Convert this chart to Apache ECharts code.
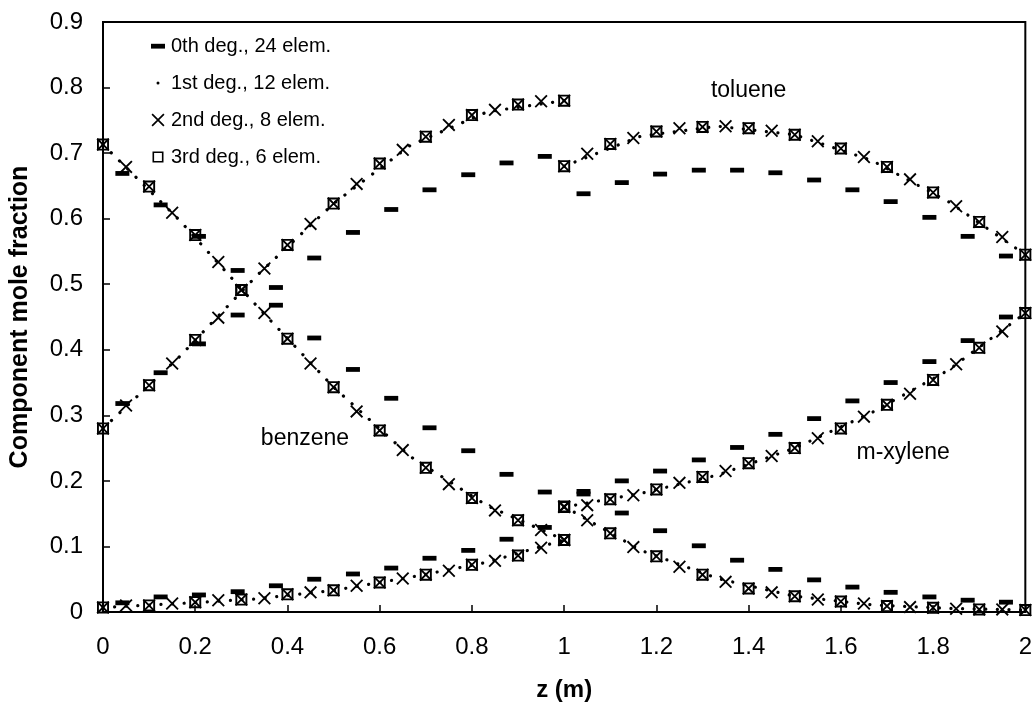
<!DOCTYPE html>
<html>
<head>
<meta charset="utf-8">
<title>Component mole fraction along z</title>
<script src="https://cdn.jsdelivr.net/npm/echarts@6/dist/echarts.min.js"></script>
<style>
  html, body { margin: 0; padding: 0; background: #fff; }
  #chart { width: 1035px; height: 707px; }
</style>
</head>
<body>
<div id="chart"></div>
<script>
// ---- axis tick labels ----
const xTickLabels = ['0', '0.2', '0.4', '0.6', '0.8', '1', '1.2', '1.4', '1.6', '1.8', '2'];
const yTickLabels = ['0', '0.1', '0.2', '0.3', '0.4', '0.5', '0.6', '0.7', '0.8', '0.9'];

// ---- series names ----
const seriesNames = ['0th deg., 24 elem.', '1st deg., 12 elem.', '2nd deg., 8 elem.', '3rd deg., 6 elem.'];

// ---- 0th degree, 24 elements: element midpoints ----
const zDeg0 = [0.042, 0.125, 0.208, 0.292, 0.375, 0.458, 0.542, 0.625, 0.708, 0.792, 0.875, 0.958,
               1.042, 1.125, 1.208, 1.292, 1.375, 1.458, 1.542, 1.625, 1.708, 1.792, 1.875, 1.958];
const benzeneDeg0 = [0.669, 0.621, 0.573, 0.521, 0.468, 0.418, 0.370, 0.326, 0.281, 0.246, 0.210, 0.183,
                     0.184, 0.151, 0.124, 0.101, 0.079, 0.065, 0.049, 0.038, 0.030, 0.023, 0.018, 0.015];
const tolueneDeg0 = [0.318, 0.365, 0.409, 0.453, 0.495, 0.540, 0.579, 0.614, 0.644, 0.667, 0.685, 0.695,
                     0.638, 0.655, 0.668, 0.674, 0.674, 0.670, 0.659, 0.644, 0.626, 0.602, 0.573, 0.543];
const xyleneDeg0 = [0.014, 0.023, 0.026, 0.031, 0.040, 0.050, 0.058, 0.067, 0.082, 0.094, 0.111, 0.129,
                    0.180, 0.200, 0.215, 0.232, 0.251, 0.271, 0.295, 0.322, 0.350, 0.382, 0.414, 0.450];

// ---- 1st degree, 12 elements: nodal values (two sections, split at z = 1) ----
const zDeg1Sec1 = [0, 0.1667, 0.3333, 0.5, 0.6667, 0.8333, 1];
const zDeg1Sec2 = [1, 1.1667, 1.3333, 1.5, 1.6667, 1.8333, 2];
const benzeneDeg1Sec1 = [0.713, 0.597, 0.467, 0.343, 0.237, 0.162, 0.110];
const benzeneDeg1Sec2 = [0.161, 0.094, 0.051, 0.024, 0.011, 0.0055, 0.003];
const tolueneDeg1Sec1 = [0.280, 0.390, 0.513, 0.623, 0.712, 0.763, 0.780];
const tolueneDeg1Sec2 = [0.680, 0.726, 0.741, 0.728, 0.689, 0.626, 0.545];
const xyleneDeg1Sec1 = [0.007, 0.013, 0.020, 0.033, 0.053, 0.076, 0.110];
const xyleneDeg1Sec2 = [0.160, 0.181, 0.209, 0.250, 0.304, 0.369, 0.456];

// ---- 2nd degree, 8 elements: plotted every 0.05 m ----
const zDeg2 = [0, 0.05, 0.1, 0.15, 0.2, 0.25, 0.3, 0.35, 0.4, 0.45, 0.5, 0.55, 0.6, 0.65, 0.7, 0.75, 0.8, 0.85, 0.9, 0.95, 1,
               1, 1.05, 1.1, 1.15, 1.2, 1.25, 1.3, 1.35, 1.4, 1.45, 1.5, 1.55, 1.6, 1.65, 1.7, 1.75, 1.8, 1.85, 1.9, 1.95, 2];
const benzeneDeg2 = [0.713, 0.679, 0.649, 0.609, 0.575, 0.534, 0.491, 0.456, 0.417, 0.379, 0.343, 0.306, 0.277, 0.247, 0.220, 0.195, 0.174, 0.155, 0.140, 0.125, 0.110,
                     0.161, 0.140, 0.120, 0.099, 0.085, 0.069, 0.057, 0.046, 0.036, 0.030, 0.024, 0.019, 0.016, 0.013, 0.009, 0.0075, 0.0065, 0.005, 0.004, 0.004, 0.003];
const tolueneDeg2 = [0.280, 0.315, 0.346, 0.379, 0.415, 0.449, 0.491, 0.524, 0.560, 0.592, 0.623, 0.653, 0.684, 0.705, 0.725, 0.743, 0.758, 0.766, 0.774, 0.779, 0.780,
                     0.680, 0.699, 0.714, 0.723, 0.733, 0.738, 0.740, 0.741, 0.738, 0.734, 0.728, 0.718, 0.707, 0.694, 0.679, 0.660, 0.640, 0.619, 0.595, 0.572, 0.545];
const xyleneDeg2 = [0.007, 0.010, 0.010, 0.013, 0.015, 0.018, 0.019, 0.021, 0.027, 0.030, 0.033, 0.040, 0.045, 0.051, 0.057, 0.063, 0.072, 0.078, 0.086, 0.098, 0.110,
                    0.160, 0.163, 0.172, 0.178, 0.187, 0.197, 0.206, 0.215, 0.227, 0.238, 0.250, 0.265, 0.280, 0.298, 0.316, 0.333, 0.354, 0.378, 0.403, 0.428, 0.456];

// ---- 3rd degree, 6 elements: plotted every 0.1 m ----
const zDeg3 = [0, 0.1, 0.2, 0.3, 0.4, 0.5, 0.6, 0.7, 0.8, 0.9, 1,
               1, 1.1, 1.2, 1.3, 1.4, 1.5, 1.6, 1.7, 1.8, 1.9, 2];
const benzeneDeg3 = [0.713, 0.649, 0.575, 0.491, 0.417, 0.343, 0.277, 0.220, 0.174, 0.140, 0.110,
                     0.161, 0.120, 0.085, 0.057, 0.036, 0.024, 0.016, 0.009, 0.0065, 0.004, 0.003];
const tolueneDeg3 = [0.280, 0.346, 0.415, 0.491, 0.560, 0.623, 0.684, 0.725, 0.758, 0.774, 0.780,
                     0.680, 0.714, 0.733, 0.740, 0.738, 0.728, 0.707, 0.679, 0.640, 0.595, 0.545];
const xyleneDeg3 = [0.007, 0.010, 0.015, 0.019, 0.027, 0.033, 0.045, 0.057, 0.072, 0.086, 0.110,
                    0.160, 0.172, 0.187, 0.206, 0.227, 0.250, 0.280, 0.316, 0.354, 0.403, 0.456];

// ---- curve annotations: [text, z, mole fraction] ----
const curveLabels = [['toluene', 1.4, 0.795], ['benzene', 0.438, 0.265], ['m-xylene', 1.735, 0.243]];

// ---- drawing ----
const FONT = '"Liberation Sans", Arial, Helvetica, sans-serif';
const INK = '#000';

// marker shapes
const symX = 'path://M0,1.4L1.4,0L14,12.6L12.6,14ZM12.6,0L14,1.4L1.4,14L0,12.6Z';
const symSquare = 'path://M0,0L12,0L12,12L0,12ZM1.9,1.9L1.9,10.1L10.1,10.1L10.1,1.9Z';
// legend icons padded to a 16x16 box so each keeps its own proportions
const iconDash = 'path://M0,0M16,16M1,5.8L15,5.8L15,10.6L1,10.6Z';
const iconDot = 'path://M0,0M16,16M6.5,8A1.5,1.5 0 1,0 9.5,8A1.5,1.5 0 1,0 6.5,8Z';
const iconX = 'path://M0,0M16,16M1.5,2.7L2.7,1.5L14.5,13.3L13.3,14.5ZM13.3,1.5L14.5,2.7L2.7,14.5L1.5,13.3Z';
const iconSquare = 'path://M0,0M16,16M2.5,2.5L13.5,2.5L13.5,13.5L2.5,13.5ZM4.1,4.1L4.1,11.9L11.9,11.9L11.9,4.1Z';

function pairs(zs, ys) { return zs.map((z, i) => [z, ys[i]]); }

const solid = { color: INK, opacity: 1 };
const series = [];

series.push({
  name: seriesNames[0], type: 'scatter', symbol: 'rect', symbolSize: [14, 4.8],
  itemStyle: solid, z: 2,
  data: pairs(zDeg0, benzeneDeg0).concat(pairs(zDeg0, tolueneDeg0), pairs(zDeg0, xyleneDeg0))
});

[[zDeg1Sec1, benzeneDeg1Sec1], [zDeg1Sec2, benzeneDeg1Sec2],
 [zDeg1Sec1, tolueneDeg1Sec1], [zDeg1Sec2, tolueneDeg1Sec2],
 [zDeg1Sec1, xyleneDeg1Sec1], [zDeg1Sec2, xyleneDeg1Sec2]].forEach(([zs, ys]) => {
  series.push({
    name: seriesNames[1], type: 'line', showSymbol: false, symbol: 'none',
    itemStyle: solid, z: 3,
    lineStyle: { color: INK, opacity: 1, width: 3.2, type: [0.1, 11.5], cap: 'round' },
    data: pairs(zs, ys)
  });
});

series.push({
  name: seriesNames[2], type: 'scatter', symbol: symX, symbolSize: 13,
  itemStyle: solid, z: 4,
  data: pairs(zDeg2, benzeneDeg2).concat(pairs(zDeg2, tolueneDeg2), pairs(zDeg2, xyleneDeg2))
});

series.push({
  name: seriesNames[3], type: 'scatter', symbol: symSquare, symbolSize: 12,
  itemStyle: solid, z: 5,
  data: pairs(zDeg3, benzeneDeg3).concat(pairs(zDeg3, tolueneDeg3), pairs(zDeg3, xyleneDeg3))
});

series.push({
  type: 'scatter', silent: true, symbolSize: 1, z: 6,
  itemStyle: { color: 'rgba(0,0,0,0)', opacity: 1 },
  label: {
    show: true, position: 'inside', color: INK, opacity: 1, fontFamily: FONT, fontSize: 23,
    formatter: (p) => p.data[2]
  },
  data: curveLabels.map(([t, z, y]) => [z, y, t])
});

const chart = echarts.init(document.getElementById('chart'), null, { renderer: 'canvas' });
chart.setOption({
  animation: false,
  backgroundColor: '#fff',
  grid: {
    left: 102, right: 7, top: 22, bottom: 95,
    show: true, borderColor: INK, borderWidth: 2, backgroundColor: 'rgba(0,0,0,0)'
  },
  legend: {
    orient: 'vertical', left: 145, top: 31,
    itemWidth: 16, itemHeight: 16, itemGap: 17, selectedMode: false,
    textStyle: { color: INK, fontFamily: FONT, fontSize: 20 },
    data: [
      { name: seriesNames[0], icon: iconDash },
      { name: seriesNames[1], icon: iconDot },
      { name: seriesNames[2], icon: iconX },
      { name: seriesNames[3], icon: iconSquare }
    ]
  },
  xAxis: {
    type: 'value', min: 0, max: 2, interval: 0.2,
    name: 'z (m)', nameLocation: 'middle', nameGap: 66,
    nameTextStyle: { color: INK, fontFamily: FONT, fontSize: 24, fontWeight: 'bold' },
    axisLine: { onZero: false, lineStyle: { color: INK, width: 2 } },
    axisTick: { inside: true, length: 7, lineStyle: { color: INK, width: 1.5 } },
    axisLabel: {
      color: INK, fontFamily: FONT, fontSize: 24, margin: 23,
      formatter: (v) => xTickLabels[Math.round(v / 0.2)]
    },
    splitLine: { show: false }
  },
  yAxis: {
    type: 'value', min: 0, max: 0.9, interval: 0.1,
    name: 'Component mole fraction', nameLocation: 'middle', nameRotate: 90, nameGap: 70,
    nameTextStyle: { color: INK, fontFamily: FONT, fontSize: 25, fontWeight: 'bold' },
    axisLine: { onZero: false, lineStyle: { color: INK, width: 2 } },
    axisTick: { inside: true, length: 7, lineStyle: { color: INK, width: 1.5 } },
    axisLabel: {
      color: INK, fontFamily: FONT, fontSize: 24, margin: 20,
      formatter: (v) => yTickLabels[Math.round(v / 0.1)]
    },
    splitLine: { show: false }
  },
  series: series
});
</script>
</body>
</html>
